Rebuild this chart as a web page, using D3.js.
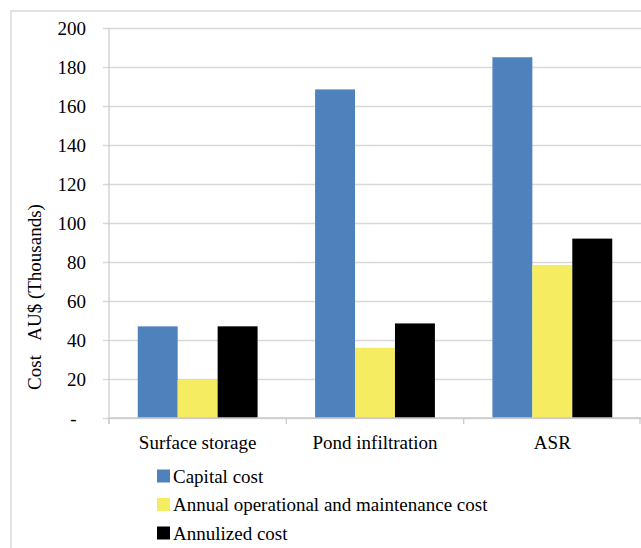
<!DOCTYPE html>
<html><head><meta charset="utf-8">
<script src="https://cdn.jsdelivr.net/npm/d3@7"></script>
<style>
html,body{margin:0;padding:0;background:#fff;}
svg{display:block;}
svg text{font-family:"Times New Roman","Liberation Serif","DejaVu Serif",serif !important;}
</style></head>
<body>
<svg id="chart" width="641" height="548"></svg>
<script>
const categories = ["Surface storage", "Pond infiltration", "ASR"];
const seriesNames = ["Capital cost", "Annual operational and maintenance cost", "Annulized cost"];
const capitalCost = [47, 168.5, 185];
const annualOMCost = [19.5, 36, 78.5];
const annulizedCost = [47, 48.5, 92];
const yTicks = [0, 20, 40, 60, 80, 100, 120, 140, 160, 180, 200];
const colors = ["#4F81BD", "#F5EC62", "#000000"];

(function () {
const series = [capitalCost, annualOMCost, annulizedCost];
const svg = d3.select("#chart");
const W = 641, H = 548;
const pLeft = 109, pRight = 641, pTop = 28, pBottom = 418;

// outer frame
svg.append("path").attr("d", `M11,${H} L11,11 L${W},11`).attr("fill","none").attr("stroke","#d9d9d9").attr("stroke-width",1.5);

const x = d3.scaleBand().domain(categories).range([pLeft, pRight]).paddingInner(0).paddingOuter(0);
const inner = d3.scaleBand().domain(d3.range(series.length)).range([28.75, x.bandwidth() - 28.75]);
const y = d3.scaleLinear().domain([0, 200]).range([pBottom, pTop]);

// gridlines + y axis
const yAxis = d3.axisLeft(y).tickValues(yTicks).tickSize(-(pRight - pLeft)).tickPadding(23)
  .tickFormat(d => d === 0 ? "-\u00A0\u00A0" : d);
const gy = svg.append("g").attr("transform", `translate(${pLeft},0)`).call(yAxis);
gy.select(".domain").remove();
gy.selectAll(".tick line").attr("stroke", "#d9d9d9").attr("stroke-width", 1.5).attr("x1", -6);
gy.selectAll(".tick text").attr("font-size", 19).attr("fill", "#000");
svg.append("line").attr("x1", pLeft).attr("x2", pLeft).attr("y1", pTop).attr("y2", pBottom + 6)
  .attr("stroke", "#c8c8c8").attr("stroke-width", 1.2);

// bars
categories.forEach((c, ci) => {
  series.forEach((s, si) => {
    svg.append("rect")
      .attr("x", x(c) + inner(si))
      .attr("y", y(s[ci]))
      .attr("width", inner.bandwidth())
      .attr("height", y(0) - y(s[ci]))
      .attr("fill", colors[si]);
  });
});

// x axis
const xAxis = d3.axisBottom(x).tickSize(0).tickPadding(18);
const gx = svg.append("g").attr("transform", `translate(0,${pBottom})`).call(xAxis);
gx.select(".domain").attr("stroke", "#c8c8c8").attr("stroke-width", 1.5).attr("d", `M${pLeft},0H${pRight}`);
gx.selectAll(".tick text").attr("font-size", 19).attr("fill", "#000");
// category boundary ticks
const bounds = categories.map(c => x(c)).concat([x(categories[categories.length-1]) + x.bandwidth()]);
svg.selectAll(".bt").data(bounds).enter().append("line")
  .attr("x1", d => Math.min(d, pRight - 1)).attr("x2", d => Math.min(d, pRight - 1))
  .attr("y1", pBottom).attr("y2", pBottom + 6).attr("stroke", "#c8c8c8").attr("stroke-width", 1.2);

// y label
svg.append("text")
  .attr("transform", `translate(41,297) rotate(-90)`)
  .attr("text-anchor", "middle")
  .attr("font-size", 19)
  .attr("fill", "#000")
  .text("Cost\u00A0\u00A0\u00A0AU$ (Thousands)");

// legend
const lg = svg.append("g");
seriesNames.forEach((n, i) => {
  const cy = 476 + i * 28.5;
  lg.append("rect").attr("x", 157).attr("y", cy - 6.5).attr("width", 13).attr("height", 13).attr("fill", colors[i]);
  lg.append("text").attr("x", 173).attr("y", cy).attr("dy", "0.35em").attr("font-size", 19).attr("fill", "#000").text(n);
});
})();
</script>
</body></html>
